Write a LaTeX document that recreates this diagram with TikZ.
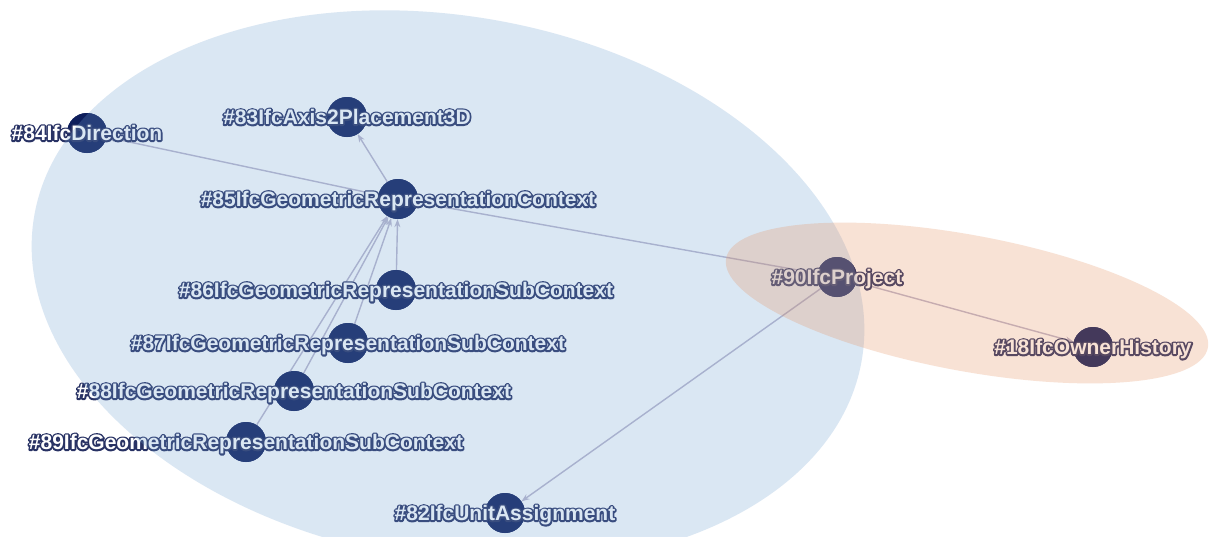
\documentclass[tikz,border=0pt]{standalone}
\usepackage{fontspec}
\setmainfont{Liberation Sans}
\usetikzlibrary{arrows.meta}

\definecolor{nodefill}{RGB}{14,30,92}
\definecolor{halo}{RGB}{40,50,100}
\definecolor{edgecol}{RGB}{188,184,205}
\definecolor{groupblue}{RGB}{110,160,210}
\definecolor{grouporange}{RGB}{230,140,90}

% white lettering with a dark stroked outline behind it
\newcommand\haloed[1]{%
  \leavevmode
  \rlap{\special{pdf:code q 1 Tr 3.4 w 1 j}{\color{halo}#1}\special{pdf:code Q}}%
  \textcolor{white}{#1}}

\tikzset{
  entity/.style={circle, fill=nodefill, minimum size=40pt, inner sep=0pt},
  caption/.style={anchor=base, yshift=-7.5pt, inner sep=0pt,
    font=\fontsize{21pt}{21pt}\selectfont\bfseries},
  ref/.style={draw=edgecol, line width=1.4pt,
    -{Stealth[length=8pt,width=6pt]}},
  group/.style={fill opacity=0.25}
}

\begin{document}
\begin{tikzpicture}[x=1pt,y=-1pt]
\useasboundingbox (0,0) rectangle (1211,536);
\clip (0,0) rectangle (1211,536);
\fill[white] (0,0) rectangle (1211,536);

% entities
\node[entity] (n84) at (87,133) {};
\node[entity] (n83) at (347,117) {};
\node[entity] (n85) at (398,199) {};
\node[entity] (n86) at (396,290) {};
\node[entity] (n87) at (348,343) {};
\node[entity] (n88) at (294,391) {};
\node[entity] (n89) at (246,442) {};
\node[entity] (n82) at (505,513) {};
\node[entity] (n90) at (837,277) {};
\node[entity] (n18) at (1093,347) {};

% references
\draw[ref] (n85) -- (n84);
\draw[ref] (n85) -- (n83);
\draw[ref] (n86) -- (n85);
\draw[ref] (n87) -- (n85);
\draw[ref] (n88) -- (n85);
\draw[ref] (n89) -- (n85);
\draw[ref] (n90) -- (n85);
\draw[ref] (n90) -- (n82);
\draw[ref] (n90) -- (n18);

% redraw entity discs above the references
\foreach \n in {n84,n83,n85,n86,n87,n88,n89,n82,n90,n18}
  \fill[nodefill] (\n) circle (20pt);

% captions
\node[caption] (t84) at (n84) {\haloed{\#84IfcDirection}};
\node[caption] (t83) at (n83) {\haloed{\#83IfcAxis2Placement3D}};
\node[caption] (t85) at (n85) {\haloed{\#85IfcGeometricRepresentationContext}};
\node[caption] (t86) at (n86) {\haloed{\#86IfcGeometricRepresentationSubContext}};
\node[caption] (t87) at (n87) {\haloed{\#87IfcGeometricRepresentationSubContext}};
\node[caption] (t88) at (n88) {\haloed{\#88IfcGeometricRepresentationSubContext}};
\node[caption] (t89) at (n89) {\haloed{\#89IfcGeometricRepresentationSubContext}};
\node[caption] (t82) at (n82) {\haloed{\#82IfcUnitAssignment}};
\node[caption] (t90) at (n90) {\haloed{\#90IfcProject}};
\node[caption] (t18) at (n18) {\haloed{\#18IfcOwnerHistory}};

% translucent groupings laid over the graph
\fill[group, groupblue, shift={(448,288)}, rotate=-10]
  (0,0) ellipse [x radius=420pt, y radius=272pt];
\fill[group, grouporange, shift={(967,303)}, rotate=-10.5]
  (0,0) ellipse [x radius=245pt, y radius=68pt];
\end{tikzpicture}
\end{document}
